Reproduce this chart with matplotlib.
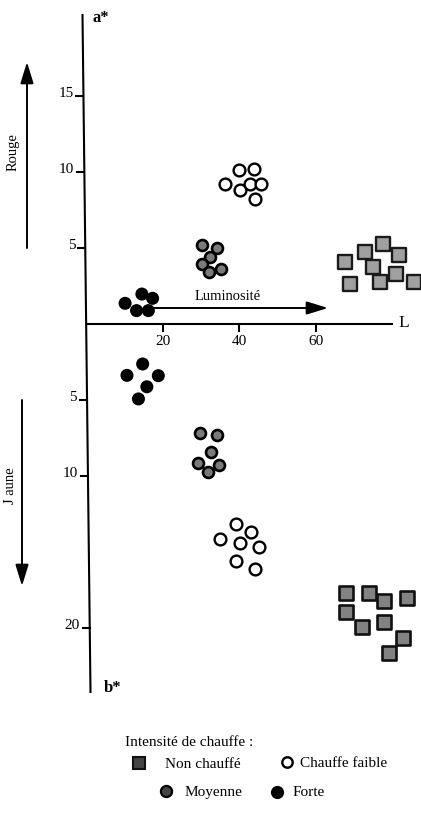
import matplotlib
matplotlib.use('Agg')
import matplotlib.pyplot as plt
from matplotlib.transforms import Affine2D

plt.rcParams['font.family'] = ['Liberation Serif', 'DejaVu Serif']

# ---------------- data ----------------
# upper half : L vs a*
L_forte_a = [10.1, 14.5, 17.3, 13.1, 16.2]
a_forte = [1.36, 1.97, 1.69, 0.88, 0.88]
L_moy_a = [30.2, 34.2, 32.3, 30.2, 32.1, 35.2]
a_moy = [5.2, 4.98, 4.43, 3.95, 3.44, 3.65]
L_faible_a = [39.9, 43.8, 36.3, 40.2, 42.8, 45.7, 44.2]
a_faible = [10.13, 10.2, 9.24, 8.8, 9.2, 9.19, 8.22]
L_non_a = [67.8, 72.9, 77.6, 81.9, 74.9, 69.0, 76.8, 81.0, 85.8]
a_non = [4.05, 4.76, 5.26, 4.54, 3.77, 2.6, 2.78, 3.27, 2.78]
# lower half : L vs b* (b* increases downward)
L_forte_b = [14.7, 10.6, 18.8, 15.8, 13.6]
b_forte = [2.63, 3.38, 3.4, 4.13, 4.93]
L_moy_b = [29.7, 34.1, 32.6, 29.1, 34.7, 31.9]
b_moy = [7.19, 7.3, 8.4, 9.13, 9.28, 9.76]
L_faible_b = [39.1, 43.1, 35.0, 40.2, 45.2, 39.2, 44.2]
b_faible = [13.16, 13.66, 14.16, 14.39, 14.65, 15.58, 16.14]
L_non_b = [67.9, 74.0, 78.0, 83.8, 67.9, 72.0, 78.0, 82.9, 79.3]
b_non = [17.72, 17.68, 18.22, 18.0, 18.93, 19.93, 19.63, 20.68, 21.66]

a_ticks = [5, 10, 15]
b_ticks = [5, 10, 20]
L_ticks = [20, 40, 60]
L_axis_end = 80

# ---------------- figure ----------------
W, H = 421, 813
fig = plt.figure(figsize=(W / 100, H / 100), dpi=100)
ax = fig.add_axes([0, 0, 1, 1])
PX_L, X0, PX_V, Y0 = 3.82, 86.5, 15.2, 324.0
xlim = (-X0 / PX_L, (W - X0) / PX_L)
ylim = ((Y0 - H) / PX_V, Y0 / PX_V)
ax.set_xlim(*xlim)
ax.set_ylim(*ylim)
ax.axis('off')
pix = Affine2D().scale(1 / W, -1 / H).translate(0, 1) + fig.transFigure

def v2py(v):
    return Y0 - PX_V * v

def axis_px(py):
    # slightly tilted vertical axis (scanned original)
    return 82.5 + (py - 15) * 8.0 / 677.0

LW = 1.5
# vertical axis
ax.plot([axis_px(15), axis_px(692)], [15, 692], color='black', lw=LW,
        transform=pix, clip_on=False)
# horizontal axis
ax.plot([0, L_axis_end], [0, 0], color='black', lw=LW)

fs_tick = 11
for t in a_ticks:
    py = v2py(t)
    xa = axis_px(py)
    ax.plot([xa - 7, xa], [py, py], color='black', lw=LW, transform=pix)
    ax.text(xa - 10, py + 1, f'{t}', transform=pix, ha='right', va='baseline',
            fontsize=fs_tick)
for t in b_ticks:
    py = v2py(-t)
    xa = axis_px(py)
    ax.plot([xa - 7, xa], [py, py], color='black', lw=LW, transform=pix)
    ax.text(xa - 10, py + 1, f'{t}', transform=pix, ha='right', va='baseline',
            fontsize=fs_tick)
for t in L_ticks:
    ax.plot([t, t], [0, -7 / PX_V], color='black', lw=LW)
    ax.text(t, -17 / PX_V, f'{t}', ha='center', va='center', fontsize=fs_tick)

ax.text(101, 18, 'a*', transform=pix, ha='center', va='center', fontsize=12,
        fontweight='bold')
ax.text(113, 688, 'b*', transform=pix, ha='center', va='center', fontsize=12,
        fontweight='bold')
ax.text(404, 323, 'L', transform=pix, ha='center', va='center', fontsize=12.5)

# arrows
def arrow(tail, tip):
    ax.annotate('', xy=tip, xytext=tail, xycoords=pix, textcoords=pix,
                arrowprops=dict(arrowstyle='-|>,head_length=0.65,head_width=0.2',
                                mutation_scale=20, lw=1.4, color='black',
                                shrinkA=0, shrinkB=0))

arrow((27, 248), (27, 62))
arrow((22, 400), (22, 586))
arrow((153, 308), (328, 308))
ax.text(13, 152, 'Rouge', transform=pix, rotation=90, ha='center', va='center',
        fontsize=10.5)
ax.text(11, 486, 'J aune', transform=pix, rotation=90, ha='center', va='center',
        fontsize=10.5)
ax.text(228, 296, 'Luminosité', transform=pix, ha='center', va='center',
        fontsize=10.5)

# ---------------- markers ----------------
def neg(vals):
    return [-v for v in vals]

st_forte = dict(s=88, c='black', edgecolors='none', zorder=3)
st_moy = dict(s=62, c='#7a7a7a', edgecolors='black', linewidths=1.9, zorder=3)
st_faible = dict(s=72, c='white', edgecolors='black', linewidths=1.7, zorder=3)
st_non_a = dict(marker='s', s=96, c='#a0a0a0', edgecolors='#1a1a1a',
                linewidths=1.7, zorder=3)
st_non_b = dict(marker='s', s=96, c='#828282', edgecolors='#111111',
                linewidths=1.9, zorder=3)

ax.scatter(L_forte_a, a_forte, **st_forte)
ax.scatter(L_moy_a, a_moy, **st_moy)
ax.scatter(L_faible_a, a_faible, **st_faible)
ax.scatter(L_non_a, a_non, clip_on=False, **st_non_a)
ax.scatter(L_forte_b, neg(b_forte), **st_forte)
ax.scatter(L_moy_b, neg(b_moy), **st_moy)
ax.scatter(L_faible_b, neg(b_faible), **st_faible)
ax.scatter(L_non_b, neg(b_non), clip_on=False, **st_non_b)

# ---------------- legend ----------------
fs_leg = 11
ax.text(125, 742, 'Intensité de chauffe :', transform=pix, ha='left',
        va='center', fontsize=fs_leg)
ax.plot([139], [763], marker='s', ms=9, mfc='#444444', mec='#111111', mew=1.5,
        transform=pix)
ax.text(165, 764, 'Non chauffé', transform=pix, ha='left', va='center',
        fontsize=fs_leg)
ax.plot([287], [762], marker='o', ms=7.5, mfc='white', mec='black', mew=1.7,
        transform=pix)
ax.text(300, 763, 'Chauffe faible', transform=pix, ha='left', va='center',
        fontsize=fs_leg)
ax.plot([166], [791], marker='o', ms=8, mfc='#444444', mec='black', mew=1.6,
        transform=pix)
ax.text(185, 792, 'Moyenne', transform=pix, ha='left', va='center',
        fontsize=fs_leg)
ax.plot([277], [792], marker='o', ms=9.5, mfc='black', mec='none',
        transform=pix)
ax.text(293, 792, 'Forte', transform=pix, ha='left', va='center',
        fontsize=fs_leg)

ax.set_xlim(*xlim)
ax.set_ylim(*ylim)
fig.savefig('out.png', dpi=100, facecolor='white')
